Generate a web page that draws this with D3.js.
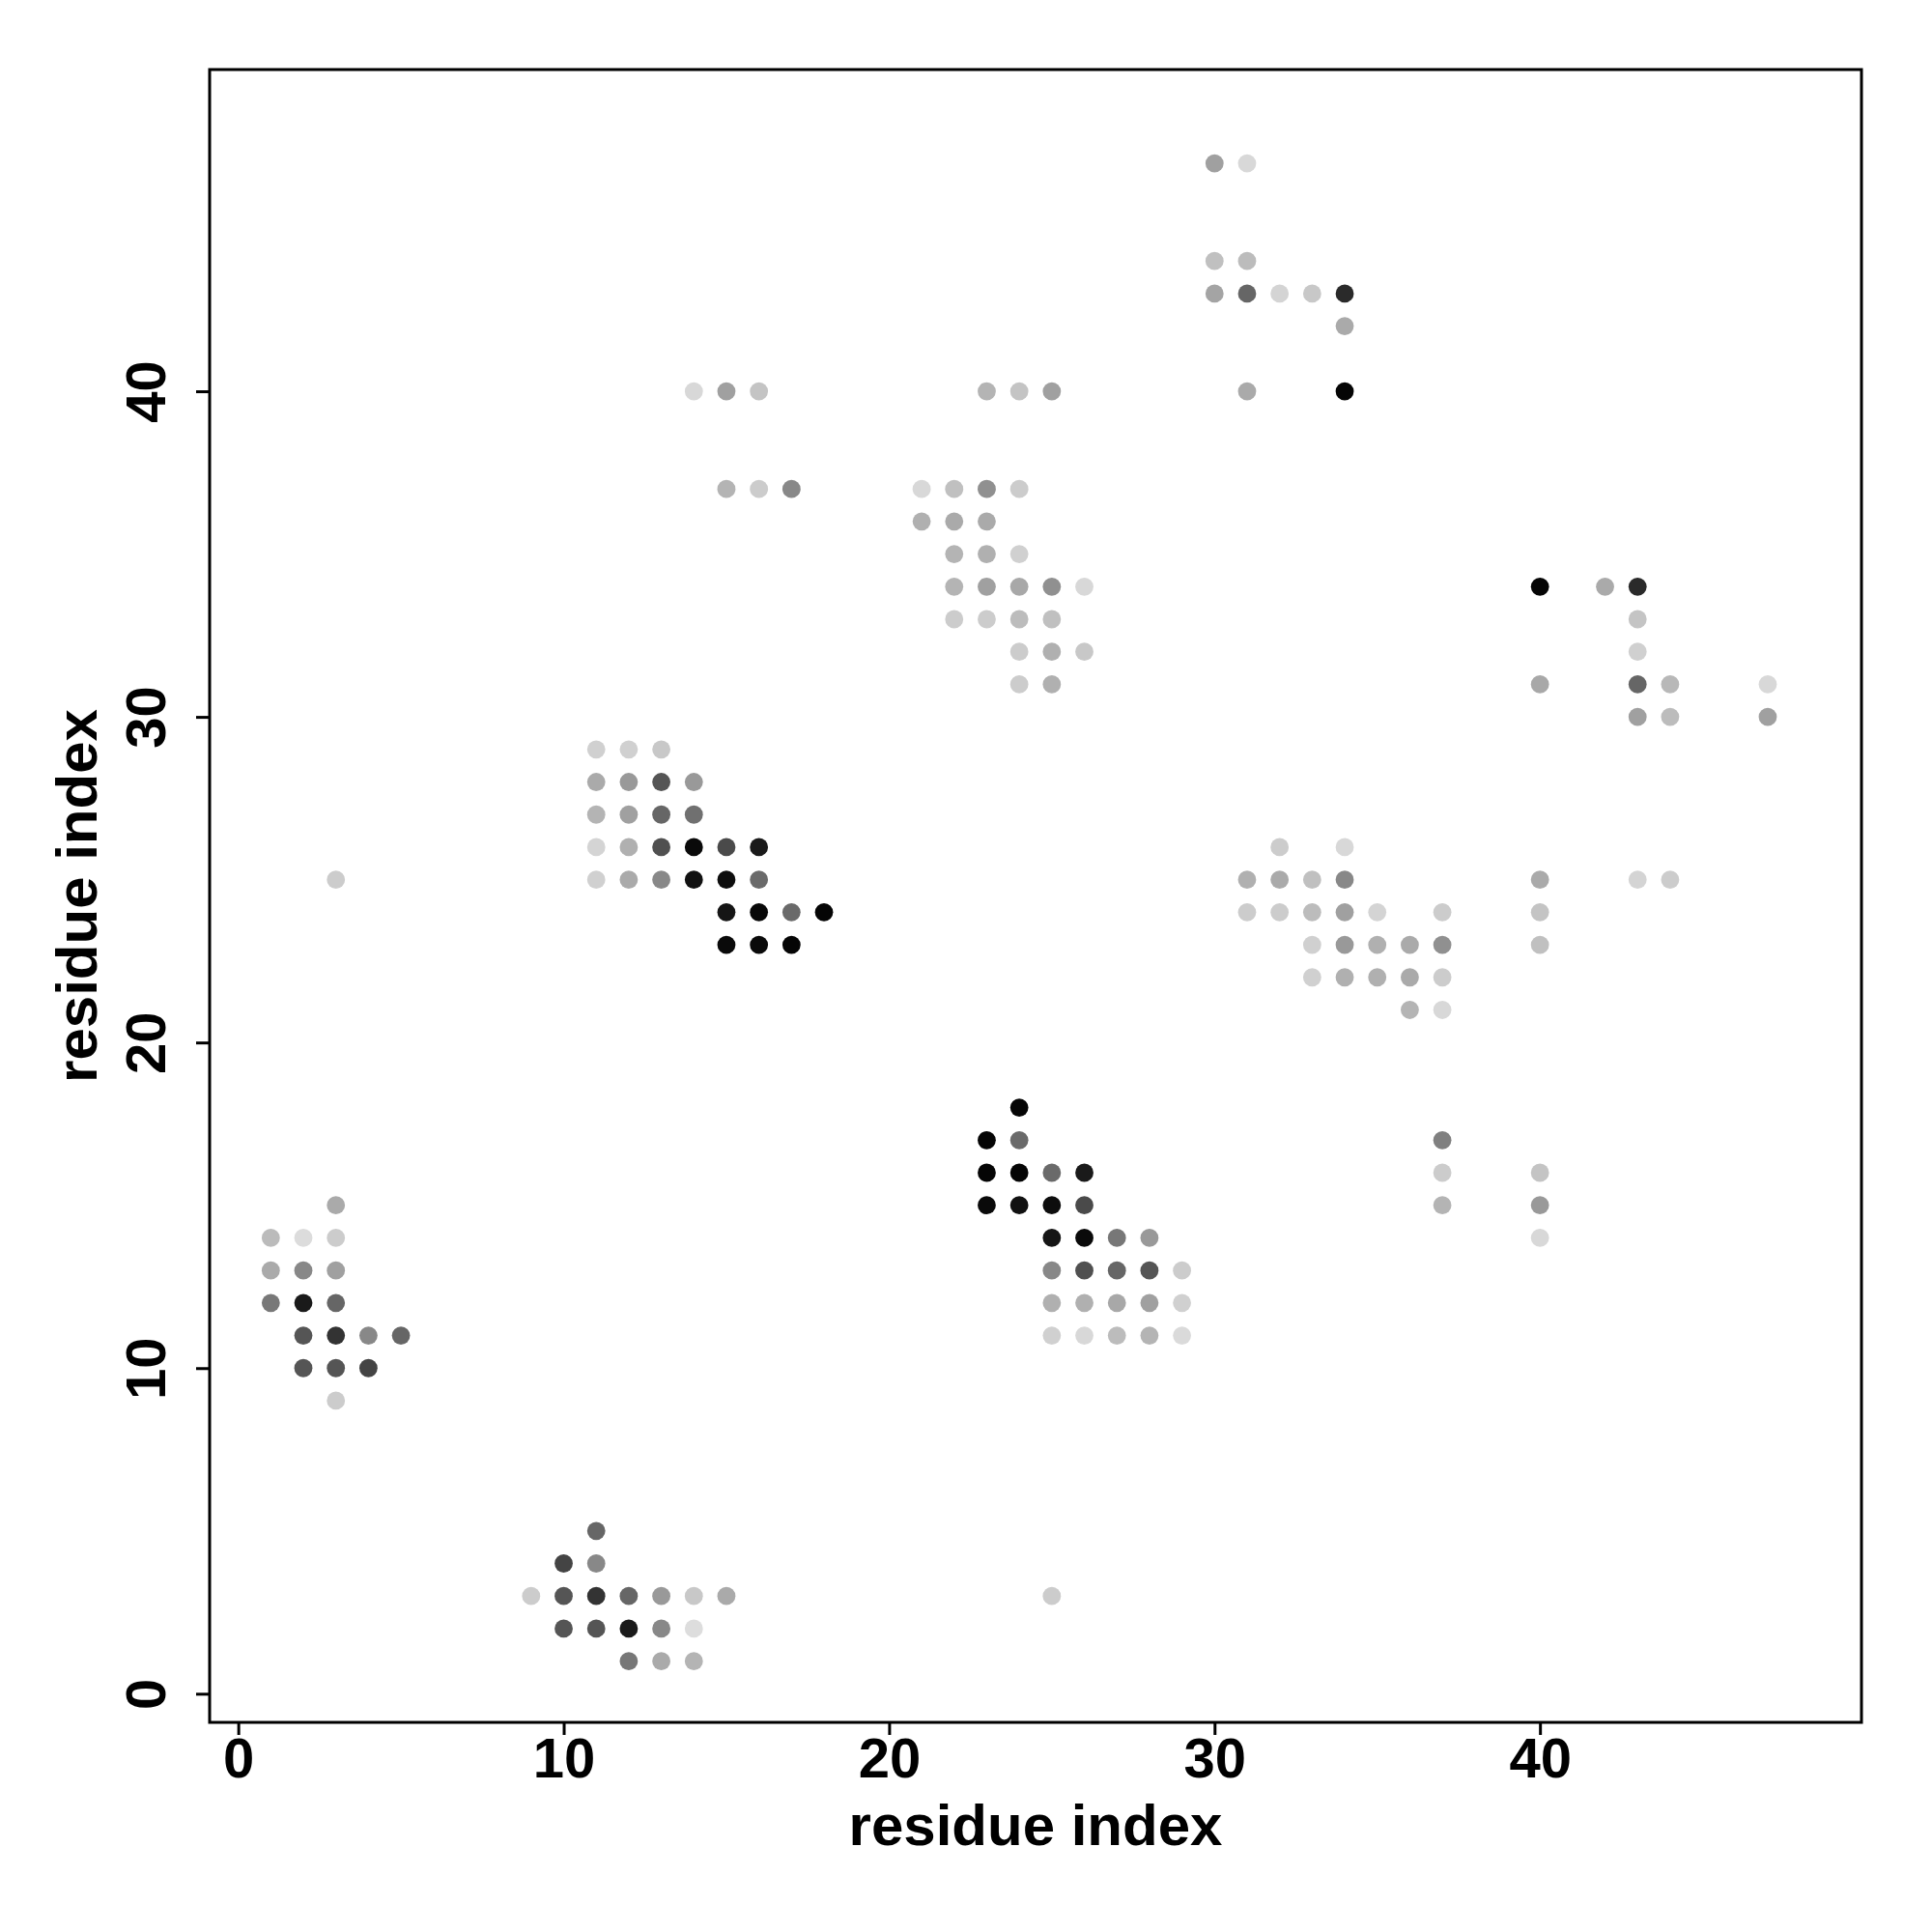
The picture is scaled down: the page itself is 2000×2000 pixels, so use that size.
<!DOCTYPE html>
<html>
<head>
<meta charset="utf-8">
<script src="https://cdn.jsdelivr.net/npm/d3@7"></script>
<style>
  html, body { margin: 0; padding: 0; background: #fff; }
  svg { display: block; }
  text { font-family: "Liberation Sans", Arial, Helvetica, sans-serif; font-weight: bold; }
</style>
</head>
<body>
<svg id="chart" width="2000" height="2000"></svg>
<script>
// ---- data (residue pair contacts, shade = gray level 0..255) ----
const residueI = [
  3, 1,2,3, 1,2,3, 1,2,3, 2,3,4,5, 2,3,4, 3,
  3,
  11, 10,11, 9,10,11,12,13,14,15, 10,11,12,13,14, 12,13,14,
  25,
  11,12,13, 11,12,13,14, 11,12,13,14, 11,12,13,14,15,16, 11,12,13,14,15,16, 15,16,17,18, 15,16,17,
  24, 23,24, 23,24,25,26, 23,24,25,26, 25,26,27,28, 25,26,27,28,29, 25,26,27,28,29, 25,26,27,28,29,
  23,24,25, 21,22,23,24, 21,22,23, 22,23,24, 22,23,24,25,26, 22,23,24,25, 24,25,26, 24,25,
  14,15,16, 15,16,17,
  30,31, 30,31, 30,31,32,33,34, 34, 31,34,
  32,34, 31,32,33,34, 31,32,33,34,35,37, 33,34,35,36,37, 33,34,35,36,37, 36,37,
  37,37,37, 40,40,40,
  40,42,43, 43, 43, 40,43,44,47, 43,44,47, 40,43,44, 40, 40
];
const residueJ = [
  15, 14,14,14, 13,13,13, 12,12,12, 11,11,11,11, 10,10,10, 9,
  25,
  5, 4,4, 3,3,3,3,3,3,3, 2,2,2,2,2, 1,1,1,
  3,
  29,29,29, 28,28,28,28, 27,27,27,27, 26,26,26,26,26,26, 25,25,25,25,25,25, 24,24,24,24, 23,23,23,
  18, 17,17, 16,16,16,16, 15,15,15,15, 14,14,14,14, 13,13,13,13,13, 12,12,12,12,12, 11,11,11,11,11,
  40,40,40, 37,37,37,37, 36,36,36, 35,35,35, 34,34,34,34,34, 33,33,33,33, 32,32,32, 31,31,
  40,40,40, 37,37,37,
  47,47, 44,44, 43,43,43,43,43, 42, 40,40,
  26,26, 25,25,25,25, 24,24,24,24,24,24, 23,23,23,23,23, 22,22,22,22,22, 21,21,
  17,16,15, 16,15,14,
  34,34,34, 33, 32, 31,31,31,31, 30,30,30, 25,25,25, 24, 23
];
const shade = [
  170, 187,220,204, 170,136,160, 120,26,102, 85,51,136,102, 85,85,68, 204,
  204,
  102, 68,136, 204,85,51,102,153,200,170, 85,85,26,136,221, 119,170,180,
  204,
  208,208,200, 170,153,85,153, 180,160,102,112, 212,176,80,10,74,26, 208,170,136,17,13,106, 21,8,106,5, 10,10,5,
  5, 5,106, 5,5,106,26, 10,17,13,74, 21,10,119,153, 136,80,102,85,204, 176,176,168,160,208, 208,216,188,180,218,
  180,196,160, 216,192,144,204, 176,170,170, 180,176,208, 180,160,168,144,216, 204,204,188,192, 204,176,200, 204,176,
  216,160,196, 180,204,136,
  160,216, 192,188, 164,102,212,200,42, 170, 170,5,
  204,216, 176,170,192,136, 204,204,188,160,212,204, 208,153,176,170,144, 208,176,176,170,204, 180,216,
  128,204,180, 196,153,216,
  5,170,42, 196, 208, 168,102,184,216, 160,188,160, 170,212,204, 196, 192
];
const xTicks = [0, 10, 20, 30, 40];
const yTicks = [0, 10, 20, 30, 40];
const axisTitleX = "residue index";
const axisTitleY = "residue index";

(function () {
  // ---- layout ----
  const pL = 217, pR = 1927, pT = 72, pB = 1783;
  const svg = d3.select("#chart");

  const x = d3.scaleLinear().domain([-0.88, 49.88]).range([pL, pR]);
  const y = d3.scaleLinear().domain([-0.88, 49.88]).range([pB, pT]);

  const pts = residueI.map((d, k) => ({ i: d, j: residueJ[k], g: shade[k] }));

  svg.append("g")
    .selectAll("circle")
    .data(pts)
    .enter()
    .append("circle")
    .attr("cx", d => x(d.i))
    .attr("cy", d => y(d.j))
    .attr("r", 9.4)
    .attr("fill", d => d3.rgb(d.g, d.g, d.g).toString());

  // box
  svg.append("rect")
    .attr("x", pL).attr("y", pT)
    .attr("width", pR - pL).attr("height", pB - pT)
    .attr("fill", "none").attr("stroke", "#000").attr("stroke-width", 3);

  // x axis
  const xAxis = d3.axisBottom(x).tickValues(xTicks).tickSize(13).tickPadding(0).tickFormat(d3.format("d"));
  const gx = svg.append("g").attr("transform", `translate(0,${pB})`).call(xAxis);
  gx.select(".domain").remove();
  gx.selectAll(".tick line").attr("stroke", "#000").attr("stroke-width", 3);
  gx.selectAll(".tick text")
    .attr("y", 1840 - pB).attr("dy", null)
    .attr("font-size", 58).attr("fill", "#000")
    .style("font-family", "'Liberation Sans', Arial, sans-serif").style("font-weight", "bold");

  // y axis
  const yAxis = d3.axisLeft(y).tickValues(yTicks).tickSize(14).tickPadding(0).tickFormat(d3.format("d"));
  const gy = svg.append("g").attr("transform", `translate(${pL},0)`).call(yAxis);
  gy.select(".domain").remove();
  gy.selectAll(".tick line").attr("stroke", "#000").attr("stroke-width", 3);
  gy.selectAll(".tick text")
    .attr("x", null).attr("dy", null).attr("y", null)
    .attr("text-anchor", "middle")
    .attr("transform", `translate(${171 - pL},0) rotate(-90)`)
    .attr("font-size", 58).attr("fill", "#000")
    .style("font-family", "'Liberation Sans', Arial, sans-serif").style("font-weight", "bold");

  // axis titles
  svg.append("text")
    .attr("x", (pL + pR) / 2).attr("y", 1910)
    .attr("text-anchor", "middle").attr("font-size", 60).attr("fill", "#000")
    .text(axisTitleX);

  svg.append("text")
    .attr("transform", `translate(100,${(pT + pB) / 2}) rotate(-90)`)
    .attr("text-anchor", "middle").attr("font-size", 60).attr("fill", "#000")
    .text(axisTitleY);
})();
</script>
</body>
</html>
